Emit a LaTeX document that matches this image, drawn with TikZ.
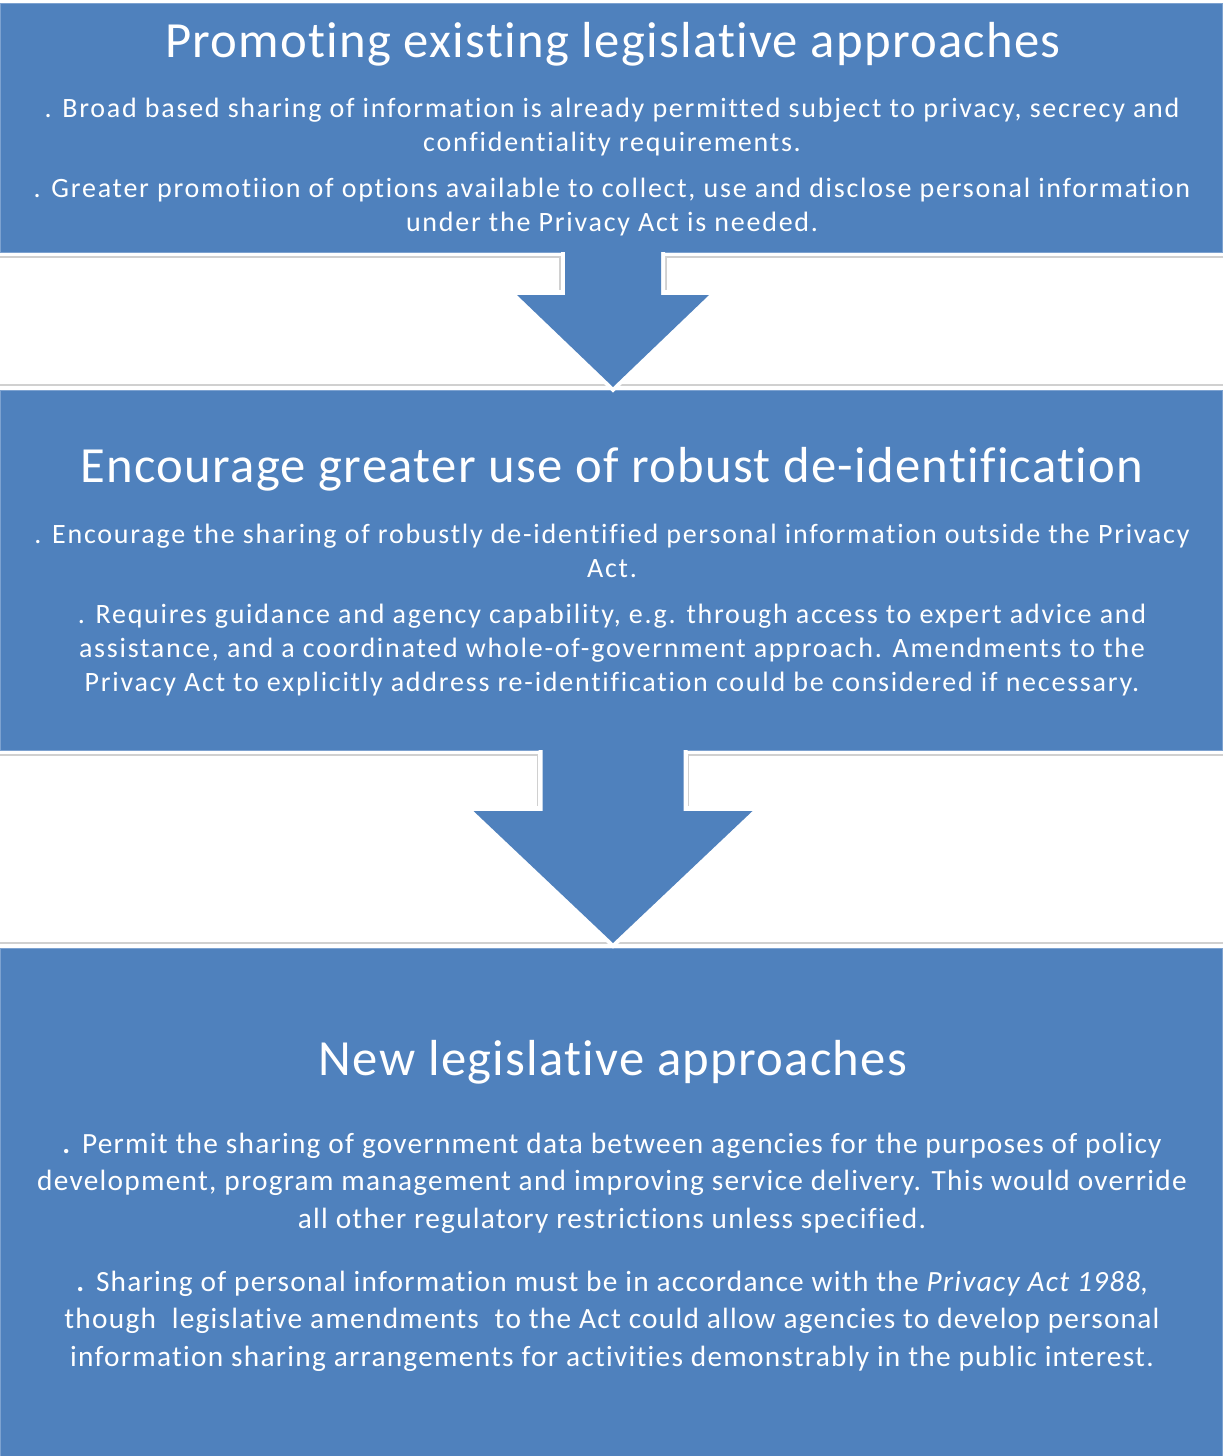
\documentclass[tikz,border=0pt]{standalone}
\usepackage{fontspec}
\setmainfont{Carlito}[Ligatures=NoCommon]
\newfontfamily\headfont{Carlito}[Ligatures=NoCommon, LetterSpace=2.5]
\newfontfamily\bodyfont{Carlito}[Ligatures=NoCommon, LetterSpace=6.3]
\newfontfamily\widefont{Carlito}[Ligatures=NoCommon, LetterSpace=4.3]
\usetikzlibrary{positioning}
\definecolor{panelblue}{HTML}{4F81BD}
\definecolor{panelrim}{HTML}{7DA2D0}
\definecolor{gapline}{HTML}{D0D0D0}
\tikzset{panel/.style={fill=panelblue,draw=panelrim,line width=0.75pt}}
\tikzset{heading/.style={text=white,inner sep=0pt,font=\headfont\fontsize{38}{44}\selectfont}}
\tikzset{para/.style={text=white,align=center,inner sep=0pt,font=\bodyfont\fontsize{21}{25.5}\selectfont}}
\tikzset{bigpara/.style={para,font=\widefont\fontsize{22}{28}\selectfont}}

\begin{document}
\begin{tikzpicture}[x=0.75pt,y=-0.75pt]
\useasboundingbox (0,0) rectangle (1223,1456);
% the three panels
\draw[panel] (0.5,3) rectangle (1222.5,252);
\draw[panel] (0.5,390) rectangle (1222.5,750);
\draw[panel] (0.5,948) rectangle (1222.5,1456);
% faint rules along the white gaps
\foreach \y in {385,943} {
	\draw[gapline, line width=1.2pt] (0,\y) -- (1223,\y);
}
% block arrows: top, head top, half shaft, half head, tip
\foreach \t/\s/\sw/\hw/\tip in {252/295/48/96/387, 750/811/70.5/139.5/943} {
	\draw[gapline, line width=1.2pt]
		(0,\t+5) -- (613-\sw-5,\t+5) -- (613-\sw-5,\s-5)
		(1223,\t+5) -- (613+\sw+5,\t+5) -- (613+\sw+5,\s-5);
	\draw[white, line width=6pt, line join=miter]
		(613-\sw,\t) -- (613-\sw,\s) -- (613-\hw,\s) -- (613,\tip) -- (613+\hw,\s) -- (613+\sw,\s) -- (613+\sw,\t);
	\fill[panelblue]
		(613-\sw,\t-2) -- (613-\sw,\s) -- (613-\hw,\s) -- (613,\tip) -- (613+\hw,\s) -- (613+\sw,\s) -- (613+\sw,\t-2) -- cycle;
}

% first panel
\node[heading] (head1) at (613,44) {Promoting existing legislative approaches};
\node[para] (p11) at (612,127) {. Broad based sharing of information is already permitted subject to privacy, secrecy and\\confidentiality requirements.};
\node[para] (p12) at (612,207) {. Greater promotiion of options available to collect, use and disclose personal information\\under the Privacy Act is needed.};

% second panel
\node[heading] (head2) at (612,469) {Encourage greater use of robust de-identification};
\node[para] (p21) at (612,551) {. Encourage the sharing of robustly de-identified personal information outside the Privacy\\Act.};
\node[para] (p22) at (612,650) {. Requires guidance and agency capability, e.g. through access to expert advice and\\assistance, and a coordinated whole-of-government approach. Amendments to the\\Privacy Act to explicitly address re-identification could be considered if necessary.};

% third panel
\node[heading] (head3) at (613,1062) {New legislative approaches};
\node[bigpara] (p31) at (612,1183) {\textbf{.} Permit the sharing of government data between agencies for the purposes of policy\\development, program management and improving service delivery. This would override\\all other regulatory restrictions unless specified.};
\node[bigpara] (p32) at (612,1321) {\textbf{.} Sharing of personal information must be in accordance with the \textit{Privacy Act 1988},\\though\ \ legislative amendments\ \ to the Act could allow agencies to develop personal\\information sharing arrangements for activities demonstrably in the public interest.};
\end{tikzpicture}
\end{document}
